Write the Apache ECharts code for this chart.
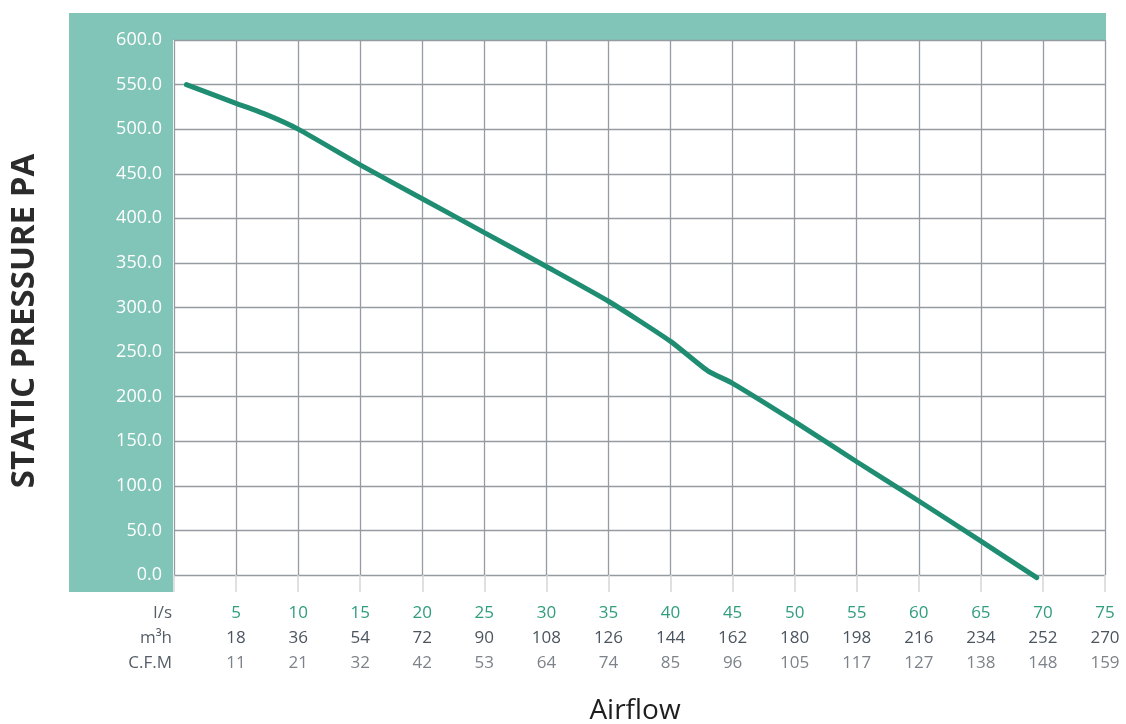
<!DOCTYPE html>
<html>
<head>
<meta charset="utf-8">
<script src="https://cdn.jsdelivr.net/npm/echarts@6/dist/echarts.min.js"></script>
<style>
html,body{margin:0;padding:0;background:#fff;}
#c{width:1126px;height:724px;}
</style>
</head>
<body>
<div id="c"></div>
<script>
// Data
var airflowLs = [1, 5, 7.5, 10, 15, 20, 25, 30, 35, 40, 43, 45, 50, 55, 60, 65, 69.5];
var pressurePa = [550, 529, 516, 500, 460, 422, 384, 346, 307, 262, 229, 215, 172, 127, 83, 38, -3];
var lsTicks  = [5, 10, 15, 20, 25, 30, 35, 40, 45, 50, 55, 60, 65, 70, 75];
var m3hTicks = [18, 36, 54, 72, 90, 108, 126, 144, 162, 180, 198, 216, 234, 252, 270];
var cfmTicks = [11, 21, 32, 42, 53, 64, 74, 85, 96, 105, 117, 127, 138, 148, 159];
var rowHeaders = ['l/s', 'm³h', 'C.F.M'];

var FONT = '"Open Sans", "Noto Sans", sans-serif';
var chart = echarts.init(document.getElementById('c'));

var pts = airflowLs.map(function (x, i) { return [x, pressurePa[i]]; });

chart.setOption({
  animation: false,
  backgroundColor: '#ffffff',
  textStyle: { fontFamily: FONT },
  graphic: [
    { type: 'rect', z: -10, shape: { x: 69, y: 13, width: 1037, height: 27 }, style: { fill: '#80c5b8' } },
    { type: 'rect', z: -10, shape: { x: 69, y: 13, width: 104, height: 579 }, style: { fill: '#80c5b8' } },
    { type: 'text', rotation: Math.PI / 2, x: 25, y: 321,
      style: { text: 'STATIC PRESSURE PA', fill: '#2b2b2b', font: 'bold 33px "Open Sans", sans-serif',
               textAlign: 'center', textVerticalAlign: 'middle' } },
    { type: 'text', x: 635, y: 711,
      style: { text: 'Airflow', fill: '#1e1e1e', font: '28px "Open Sans", sans-serif',
               textAlign: 'center', textVerticalAlign: 'middle' } },
    { type: 'text', x: 172, y: 613,
      style: { text: rowHeaders[0], fill: '#555d66', font: '17px "Open Sans", sans-serif', textAlign: 'right', textVerticalAlign: 'middle' } },
    { type: 'text', x: 172, y: 638,
      style: { text: rowHeaders[1], fill: '#555d66', font: '17px "Open Sans", sans-serif', textAlign: 'right', textVerticalAlign: 'middle' } },
    { type: 'text', x: 172, y: 663,
      style: { text: rowHeaders[2], fill: '#555d66', font: '17px "Open Sans", sans-serif', textAlign: 'right', textVerticalAlign: 'middle' } }
  ],
  grid: { left: 174, right: 21, top: 40, bottom: 149, show: true, backgroundColor: '#ffffff', borderWidth: 0 },
  xAxis: {
    type: 'value', min: 0, max: 75, interval: 5,
    axisLine: { show: false },
    axisTick: { show: true, length: 17, lineStyle: { color: '#d3d6d9', width: 1.5 } },
    splitLine: { show: true, lineStyle: { color: '#959ba1', width: 1.3 } },
    axisLabel: {
      margin: 26,
      fontFamily: FONT,
      formatter: function (v) {
        var i = lsTicks.indexOf(v);
        if (i < 0) return '';
        return '{a|' + lsTicks[i] + '}\n{b|' + m3hTicks[i] + '}\n{c|' + cfmTicks[i] + '}';
      },
      rich: {
        a: { color: '#2f9d7e', fontSize: 17, lineHeight: 25, fontFamily: FONT },
        b: { color: '#4b5560', fontSize: 17, lineHeight: 25, fontFamily: FONT },
        c: { color: '#7d838a', fontSize: 17, lineHeight: 25, fontFamily: FONT }
      }
    }
  },
  yAxis: {
    type: 'value', min: 0, max: 600, interval: 50,
    axisLine: { show: false },
    axisTick: { show: false },
    splitLine: { show: true, lineStyle: { color: '#959ba1', width: 1.3 } },
    axisLabel: {
      margin: 12, color: '#ffffff', fontSize: 18, fontFamily: FONT,
      formatter: function (v) { return v.toFixed(1); }
    }
  },
  series: [{
    type: 'line',
    data: pts,
    showSymbol: false,
    smooth: 0.2,
    clip: false,
    lineStyle: { color: '#1f8d72', width: 5, cap: 'round' },
    itemStyle: { color: '#1f8d72' }
  }]
});
</script>
</body>
</html>
